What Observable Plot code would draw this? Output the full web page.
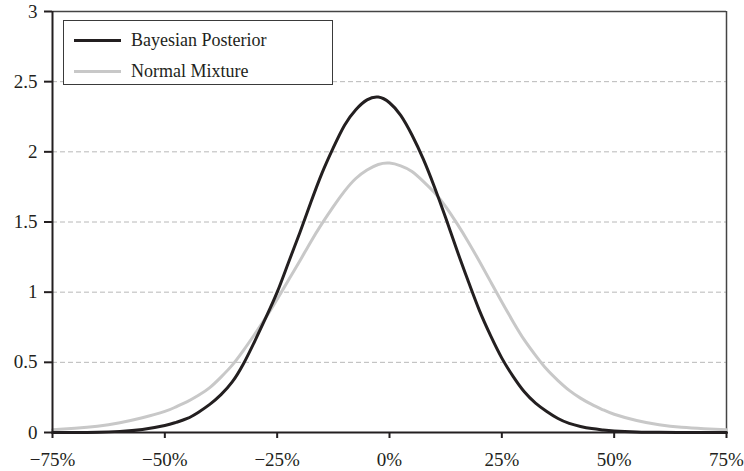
<!DOCTYPE html>
<html><head><meta charset="utf-8">
<script src="https://cdn.jsdelivr.net/npm/d3@7"></script>
<script src="https://cdn.jsdelivr.net/npm/@observablehq/plot@0.6"></script>
<style>
body{margin:0;background:#fff;}
#wrap{position:relative;width:744px;height:471px;}
#legend{position:absolute;left:63px;top:20px;width:268px;height:63px;border:1.5px solid #3a3a3a;background:#fff;font-family:"Liberation Serif",serif;font-size:18px;color:#231f20;}
#legend .row{position:absolute;left:0;height:20px;display:flex;align-items:center;}
#legend .sw{display:inline-block;width:47px;height:3px;margin-left:10px;margin-right:10px;}
</style></head><body><div id="wrap"></div>
<script>
// x values (% return)
const xs = [-75,-70,-65,-60,-55,-50,-47.5,-45,-42.5,-40,-37.5,-35,-32.5,-30,-27.5,-25,-22.5,-20,-17.5,-15,-12.5,-10,-7.5,-5,-2.5,0,2.5,5,7.5,10,12.5,15,17.5,20,22.5,25,27.5,30,32.5,35,37.5,40,42.5,45,47.5,50,55,60,65,70,75];
// Bayesian Posterior density
const bayesian = [0,0,0.002,0.008,0.022,0.05,0.072,0.10,0.145,0.20,0.27,0.36,0.49,0.65,0.82,1.00,1.21,1.42,1.64,1.85,2.03,2.19,2.30,2.37,2.39,2.35,2.26,2.12,1.95,1.75,1.53,1.30,1.08,0.87,0.69,0.53,0.40,0.29,0.21,0.15,0.10,0.065,0.043,0.028,0.018,0.011,0.004,0.001,0,0,0];
// Normal Mixture density
const mixture = [0.02,0.03,0.045,0.07,0.105,0.15,0.183,0.22,0.265,0.32,0.395,0.48,0.585,0.70,0.82,0.95,1.085,1.22,1.36,1.49,1.61,1.72,1.81,1.87,1.91,1.92,1.90,1.86,1.79,1.71,1.61,1.49,1.36,1.22,1.075,0.93,0.79,0.66,0.55,0.45,0.37,0.30,0.245,0.20,0.162,0.13,0.085,0.055,0.037,0.027,0.02];
const seriesNames = ["Bayesian Posterior","Normal Mixture"];
const seriesColors = ["#231f20","#c8c8c8"];
const xTicks = [-75,-50,-25,0,25,50,75];
const yTicks = [0,0.5,1,1.5,2,2.5,3];
const gridValues = [0.5,1,1.5,2,2.5];

const dataB = xs.map((x,i)=>({x, y:bayesian[i], s:seriesNames[0]}));
const dataM = xs.map((x,i)=>({x, y:mixture[i], s:seriesNames[1]}));

const chart = Plot.plot({
  width:744, height:471,
  marginLeft:52, marginRight:18, marginTop:11, marginBottom:39,
  style:{fontFamily:"Liberation Serif, serif", fontSize:"19px", color:"#231f20", background:"white", overflow:"visible"},
  x:{domain:[-75,75]},
  y:{domain:[0,3]},
  color:{domain:seriesNames, range:seriesColors},
  marks:[
    Plot.ruleY(gridValues, {stroke:"#b8b8b8", strokeDasharray:"5,3", strokeWidth:1}),
    Plot.ruleY([3], {stroke:"#444", strokeWidth:1.5}),
    Plot.ruleX([75], {stroke:"#444", strokeWidth:1.5}),
    Plot.line(dataM, {x:"x", y:"y", stroke:"s", curve:"natural", strokeWidth:3}),
    Plot.line(dataB, {x:"x", y:"y", stroke:"s", curve:"natural", strokeWidth:3}),
    Plot.ruleX([-75], {stroke:"#231f20", strokeWidth:2}),
    Plot.ruleY([0], {stroke:"#231f20", strokeWidth:2}),
    Plot.axisX({ticks:xTicks, tickFormat:d=>(d<0?"\u2212":"")+Math.abs(d)+"%", tickSize:6, tickPadding:14, strokeWidth:2, stroke:"#231f20", fill:"#231f20", label:null}),
    Plot.axisY({ticks:yTicks, tickFormat:d=>String(d), tickSize:8, tickPadding:7, strokeWidth:2, stroke:"#231f20", fill:"#231f20", label:null})
  ]
});
const wrap = document.getElementById("wrap");
wrap.appendChild(chart);

const legend = document.createElement("div");
legend.id = "legend";
const rowTops = [9, 40];
seriesNames.forEach((name,i)=>{
  const row = document.createElement("div");
  row.className = "row";
  row.style.top = rowTops[i]+"px";
  const sw = document.createElement("span");
  sw.className = "sw";
  sw.style.background = seriesColors[i];
  const t = document.createElement("span");
  t.textContent = name;
  row.appendChild(sw); row.appendChild(t);
  legend.appendChild(row);
});
wrap.appendChild(legend);
</script></body></html>
